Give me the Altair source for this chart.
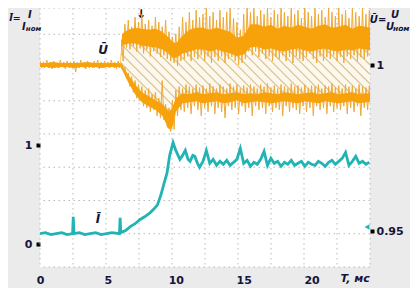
import altair as alt
import numpy as np
import pandas as pd

# ---------------- scales / layout constants ----------------
T_DOMAIN = [0, 24.3]          # time, ms
I_DOMAIN = [-0.2273, 2.3889]  # current, p.u. (left axis)
U_DOMAIN = [0.939157, 1.017169]  # voltage, p.u. (right axis)
W, H = 330, 259

x_label_values = [0, 5, 10, 15, 20]
left_tick_values = [0, 1]
right_tick_values = [0.95, 1]

# oscilloscope graticule (10 x 8 divisions)
grid_t = [0, 2.43, 4.86, 7.29, 9.72, 12.15, 14.58, 17.01, 19.44, 21.87, 24.3]
grid_I = [-0.2273, 0.1086, 0.4444, 0.7803, 1.1162, 1.4520, 1.7879, 2.1237, 2.3889]

# ---------------- voltage U (p.u.) ----------------
# before the event: band of the trace
pre_t = [0, 0.5, 1.0, 1.5, 2.0, 2.5, 3.0, 3.5, 4.0, 4.5, 5.0, 5.5, 5.9]
pre_hi = [1.0006, 1.0006, 1.0009, 1.0006, 1.0006, 1.0006, 1.0006, 1.0009, 1.0006, 1.0006, 1.0006, 1.0006, 1.0006]
pre_lo = [0.9994, 0.9994, 0.9991, 0.9994, 0.9994, 0.9991, 0.9994, 0.9994, 0.9994, 0.9991, 0.9994, 0.9994, 0.9994]

pre_zig_t = [0.25 * k for k in range(24)]
pre_zig_hi = [1.0012, 1.0009, 1.0015, 1.0009, 1.0012, 1.0006, 1.0015, 1.0009, 1.0012, 1.0009, 1.0012, 1.0009,
              1.0015, 1.0009, 1.0012, 1.0006, 1.0012, 1.0015, 1.0009, 1.0012, 1.0009, 1.0015, 1.0009, 1.0012]
pre_zig_lo = [0.9991, 0.9994, 0.9991, 0.9988, 0.9994, 0.9991, 0.9994, 0.9988, 0.9994, 0.9991, 0.9979, 0.9991,
              0.9994, 0.9988, 0.9994, 0.9991, 0.9994, 0.9988, 0.9991, 0.9994, 0.9991, 0.9994, 0.9988, 0.9994]

# after the event: upper and lower envelopes (core of the traces)
core_t = [5.9, 6.05, 6.5, 7.0, 7.5, 8.0, 8.5, 9.0, 9.5, 9.75, 10.0, 10.5, 11.0, 11.5, 12.0, 12.5, 13.0, 13.5,
          14.0, 14.5, 15.0, 15.5, 16.0, 16.5, 17.0, 17.5, 18.0, 18.5, 19.0, 19.5, 20.0, 20.5, 21.0, 21.5,
          22.0, 22.5, 23.0, 23.5, 24.0, 24.3]
up_top = [1.0006, 1.0094, 1.0106, 1.0112, 1.0109, 1.0106, 1.0109, 1.0100, 1.0082, 1.0071,
          1.0065, 1.0088, 1.0106, 1.0112, 1.0112, 1.0106, 1.0112, 1.0106, 1.0100, 1.0082,
          1.0088, 1.0123, 1.0123, 1.0115, 1.0121, 1.0109, 1.0118, 1.0112, 1.0121, 1.0115,
          1.0109, 1.0118, 1.0123, 1.0112, 1.0115, 1.0121, 1.0109, 1.0118, 1.0115, 1.0112]
up_bot = [0.9994, 1.0059, 1.0065, 1.0065, 1.0059, 1.0056, 1.0053, 1.0047, 1.0035, 1.0024,
          1.0021, 1.0035, 1.0041, 1.0047, 1.0047, 1.0041, 1.0047, 1.0041, 1.0035, 1.0026,
          1.0032, 1.0053, 1.0056, 1.0047, 1.0050, 1.0044, 1.0041, 1.0047, 1.0050, 1.0044,
          1.0041, 1.0047, 1.0050, 1.0044, 1.0041, 1.0047, 1.0044, 1.0050, 1.0047, 1.0044]
lo_top = [1.0006, 1.0000, 0.9971, 0.9941, 0.9918, 0.9906, 0.9894, 0.9882, 0.9859, 0.9871,
          0.9900, 0.9915, 0.9912, 0.9918, 0.9912, 0.9915, 0.9918, 0.9912, 0.9915, 0.9918,
          0.9912, 0.9915, 0.9912, 0.9918, 0.9915, 0.9912, 0.9918, 0.9915, 0.9912, 0.9915,
          0.9918, 0.9912, 0.9915, 0.9918, 0.9912, 0.9915, 0.9918, 0.9912, 0.9915, 0.9915]
lo_bot = [0.9994, 0.9985, 0.9947, 0.9912, 0.9888, 0.9876, 0.9865, 0.9847, 0.9806, 0.9812,
          0.9859, 0.9885, 0.9888, 0.9891, 0.9885, 0.9888, 0.9891, 0.9885, 0.9888, 0.9894,
          0.9885, 0.9888, 0.9891, 0.9888, 0.9885, 0.9888, 0.9891, 0.9888, 0.9885, 0.9891,
          0.9888, 0.9885, 0.9891, 0.9888, 0.9885, 0.9888, 0.9891, 0.9885, 0.9888, 0.9888]

# noise spikes (peak up / peak down) every 0.25 ms after the event
zig_t = [6.0 + 0.25 * k for k in range(74)]
up_zig_hi = [1.0076, 1.0123, 1.0135, 1.0115, 1.0144, 1.0129, 1.0153, 1.0123, 1.0135, 1.0118,
             1.0144, 1.0129, 1.0115, 1.0135, 1.0100, 1.0085, 1.0094, 1.0115, 1.0144, 1.0129,
             1.0159, 1.0135, 1.0165, 1.0144, 1.0153, 1.0171, 1.0147, 1.0159, 1.0135, 1.0165,
             1.0144, 1.0159, 1.0171, 1.0141, 1.0129, 1.0106, 1.0153, 1.0173, 1.0159, 1.0171,
             1.0147, 1.0165, 1.0153, 1.0171, 1.0144, 1.0165, 1.0153, 1.0173, 1.0159, 1.0147,
             1.0171, 1.0153, 1.0165, 1.0141, 1.0173, 1.0159, 1.0147, 1.0171, 1.0153, 1.0165,
             1.0144, 1.0173, 1.0159, 1.0147, 1.0171, 1.0153, 1.0165, 1.0141, 1.0171, 1.0159,
             1.0147, 1.0173, 1.0153, 1.0165]
up_zig_lo = [1.0012, 1.0053, 1.0047, 1.0056, 1.0041, 1.0050, 1.0035, 1.0047, 1.0026, 1.0041,
             1.0035, 1.0024, 1.0029, 1.0018, 1.0012, 1.0006, 0.9997, 1.0012, 1.0018, 1.0026,
             1.0012, 1.0024, 1.0018, 1.0029, 1.0012, 1.0026, 1.0006, 1.0024, 1.0012, 1.0026,
             1.0006, 1.0018, 1.0024, 1.0012, 1.0000, 1.0006, 1.0018, 1.0041, 1.0029, 1.0041,
             1.0024, 1.0035, 1.0018, 1.0026, 1.0012, 1.0024, 1.0018, 1.0029, 1.0012, 1.0024,
             1.0006, 1.0026, 1.0018, 1.0012, 1.0024, 1.0035, 1.0018, 1.0006, 1.0026, 1.0012,
             1.0024, 1.0018, 1.0029, 1.0012, 1.0024, 1.0006, 1.0026, 1.0018, 1.0029, 1.0012,
             1.0024, 1.0018, 1.0026, 1.0035]
lo_zig_hi = [1.0006, 0.9994, 0.9976, 0.9965, 0.9953, 0.9941, 0.9935, 0.9924, 0.9929, 0.9912,
             0.9918, 0.9900, 0.9953, 0.9882, 0.9871, 0.9894, 0.9924, 0.9935, 0.9929, 0.9941,
             0.9935, 0.9929, 0.9941, 0.9932, 0.9938, 0.9929, 0.9944, 0.9935, 0.9929, 0.9941,
             0.9935, 0.9929, 0.9944, 0.9935, 0.9941, 0.9929, 0.9938, 0.9932, 0.9941, 0.9935,
             0.9929, 0.9941, 0.9935, 0.9944, 0.9932, 0.9938, 0.9929, 0.9941, 0.9935, 0.9929,
             0.9944, 0.9935, 0.9938, 0.9932, 0.9941, 0.9929, 0.9938, 0.9935, 0.9941, 0.9929,
             0.9938, 0.9935, 0.9944, 0.9932, 0.9938, 0.9929, 0.9941, 0.9935, 0.9938, 0.9929,
             0.9941, 0.9935, 0.9932, 0.9938]
lo_zig_lo = [0.9988, 0.9959, 0.9935, 0.9918, 0.9900, 0.9894, 0.9876, 0.9871, 0.9859, 0.9865,
             0.9847, 0.9841, 0.9835, 0.9812, 0.9800, 0.9806, 0.9847, 0.9865, 0.9859, 0.9871,
             0.9853, 0.9876, 0.9865, 0.9847, 0.9871, 0.9859, 0.9876, 0.9853, 0.9871, 0.9859,
             0.9841, 0.9876, 0.9865, 0.9871, 0.9853, 0.9876, 0.9859, 0.9871, 0.9847, 0.9876,
             0.9865, 0.9871, 0.9853, 0.9876, 0.9859, 0.9871, 0.9865, 0.9847, 0.9876, 0.9859,
             0.9871, 0.9865, 0.9853, 0.9876, 0.9859, 0.9871, 0.9847, 0.9876, 0.9865, 0.9871,
             0.9853, 0.9876, 0.9859, 0.9871, 0.9865, 0.9876, 0.9853, 0.9871, 0.9859, 0.9876,
             0.9847, 0.9871, 0.9865, 0.9876]

# ---------------- current I (p.u.) ----------------
cyan_t = [0.0, 0.4, 0.8, 1.2, 1.6, 2.0, 2.4, 2.45, 2.5, 2.9, 3.3, 3.7, 4.1, 4.5, 4.9, 5.3,
          5.85, 5.9, 5.95, 6.3, 6.65, 7.0, 7.35, 7.7, 8.1, 8.4, 8.65, 8.9, 9.1, 9.35, 9.55, 9.8,
          10.0, 10.1, 10.3, 10.5, 10.7, 10.9, 11.05, 11.25, 11.4, 11.6] + [11.75 + 0.25 * k for k in range(51)]
cyan_I = [0.11, 0.12, 0.10, 0.11, 0.12, 0.10, 0.11, 0.28, 0.11, 0.12, 0.10, 0.11, 0.12, 0.10, 0.11, 0.12,
          0.11, 0.27, 0.12, 0.14, 0.18, 0.21, 0.25, 0.28, 0.32, 0.36, 0.40, 0.50, 0.60, 0.72, 0.90, 1.03,
          0.95, 0.92, 0.86, 0.90, 0.95, 0.86, 0.84, 0.90, 0.89, 0.82,
          0.78, 0.84, 0.95, 0.82, 0.86, 0.80, 0.84, 0.81, 0.85, 0.80,
          0.83, 0.86, 0.97, 0.82, 0.85, 0.79, 0.83, 0.81, 0.86, 0.94,
          0.80, 0.87, 0.82, 0.84, 0.79, 0.83, 0.81, 0.85, 0.80, 0.82,
          0.84, 0.79, 0.83, 0.81, 0.80, 0.84, 0.82, 0.79, 0.83, 0.85,
          0.81, 0.84, 0.87, 0.93, 0.80, 0.84, 0.89, 0.82, 0.84, 0.81, 0.83]

# ---------------- text annotations ----------------
ann_I = pd.DataFrame({
    "t": [-1.84, -0.74, -1.18, -0.48, 4.27, 23.2],
    "I": [2.288, 2.318, 2.197, 2.177, 0.258, -0.352],
    "text": ["Ī=", "I", "I", "ном", "Ī", "T, мс"],
    "fs": [9.5, 10, 10, 7, 12, 11],
})
ann_U = pd.DataFrame({
    "t": [24.89, 26.14, 25.77, 26.6, 4.64],
    "U": [1.01355, 1.01506, 1.01145, 1.01084, 1.0045],
    "text": ["Ū=", "U", "U", "ном", "Ū"],
    "fs": [10, 10, 10, 7.5, 12],
})
arrow_df = pd.DataFrame({"t": [7.44], "I": [2.33], "text": ["↓"]})
marker_df = pd.DataFrame({"t": [24.08], "I": [0.177]})

# ---------------- styles ----------------
ORANGE = "#f7a20a"
ORANGE_SPIKE = "#efa935"
CYAN = "#22b4b5"
HATCH = "#d9c293"
CREAM = "#fdf8ed"
GRID = "#b9b9b9"
INK = "#15153a"
BG = "#ebebeb"
FONT = "DejaVu Sans"

x_scale = alt.Scale(domain=T_DOMAIN, nice=False, zero=False)
i_scale = alt.Scale(domain=I_DOMAIN, nice=False, zero=False)
u_scale = alt.Scale(domain=U_DOMAIN, nice=False, zero=False)

x_axis = alt.Axis(values=x_label_values, title=None, ticks=False, domain=False, grid=False,
                  labelFont=FONT, labelFontWeight="bold", labelFontSize=11, labelColor=INK,
                  labelPadding=7, labelFlush=False, labelOverlap=False)
i_axis = alt.Axis(orient="left", values=left_tick_values, title=None, domain=False, grid=False,
                  tickSize=4, tickWidth=4, tickColor="black", labelFont=FONT, labelFontWeight="bold",
                  labelFontSize=11, labelColor=INK, labelPadding=4, labelOverlap=False)
u_axis = alt.Axis(orient="right", values=right_tick_values, title=None, domain=False, grid=False,
                  tickSize=4, tickWidth=4, tickColor="black", labelFont=FONT, labelFontWeight="bold",
                  labelFontSize=11, labelColor=INK, labelPadding=2, labelOverlap=False,
                  labelExpr="datum.value >= 0.999 ? '1' : '0.95'")


# the same axis spec is given to every layer sharing a scale, so the axes merge
def X(field="t"):
    return alt.X(f"{field}:Q", scale=x_scale, axis=x_axis)


def YI(field="I"):
    return alt.Y(f"{field}:Q", scale=i_scale, axis=i_axis)


def YU(field="U"):
    return alt.Y(f"{field}:Q", scale=u_scale, axis=u_axis)


def zig(t, hi, lo, dt=0.125):
    rows = []
    for tt, h, l in zip(t, hi, lo):
        rows.append({"t": tt, "U": h})
        rows.append({"t": tt + dt, "U": l})
    return pd.DataFrame(rows)


# ---------------- hatch between the two voltage envelopes ----------------
def px_t(t):
    return (np.asarray(t) - T_DOMAIN[0]) / (T_DOMAIN[1] - T_DOMAIN[0]) * W


def t_px(x):
    return T_DOMAIN[0] + np.asarray(x) / W * (T_DOMAIN[1] - T_DOMAIN[0])


def py_u(u):
    return (U_DOMAIN[1] - np.asarray(u)) / (U_DOMAIN[1] - U_DOMAIN[0]) * H


def u_py(y):
    return U_DOMAIN[1] - np.asarray(y) / H * (U_DOMAIN[1] - U_DOMAIN[0])


um = (np.array(up_top) + np.array(up_bot)) / 2
lm = (np.array(lo_top) + np.array(lo_bot)) / 2
xs = np.arange(px_t(core_t[0]), px_t(core_t[-1]), 0.25)
yu = py_u(np.interp(t_px(xs), core_t, um))
yl = py_u(np.interp(t_px(xs), core_t, lm))
hatch_rows = []
for c in np.arange(-H, W, 9.5):
    yy = xs - c
    idx = np.flatnonzero((yy >= yu) & (yy <= yl))
    if idx.size < 2:
        continue
    br = np.flatnonzero(np.diff(idx) > 1)
    starts = np.concatenate([[idx[0]], idx[br + 1]])
    ends = np.concatenate([idx[br], [idx[-1]]])
    for s, e in zip(starts, ends):
        if e > s:
            hatch_rows.append({"t": float(t_px(xs[s])), "U": float(u_py(yy[s])),
                               "t2": float(t_px(xs[e])), "U2": float(u_py(yy[e]))})
hatch_df = pd.DataFrame(hatch_rows)

core_df = pd.DataFrame({"t": core_t, "ut": up_top, "ub": up_bot, "lt": lo_top, "lb": lo_bot,
                        "um": um, "lm": lm})
pre_df = pd.DataFrame({"t": pre_t, "hi": pre_hi, "lo": pre_lo})
cyan_df = pd.DataFrame({"t": cyan_t, "I": cyan_I})

# ---------------- left group: graticule + current ----------------
vgrid = alt.Chart(pd.DataFrame({"t": grid_t})).mark_rule(
    color=GRID, strokeWidth=1, strokeDash=[1.5, 3.5]).encode(x=X())
hgrid = alt.Chart(pd.DataFrame({"I": grid_I})).mark_rule(
    color=GRID, strokeWidth=1, strokeDash=[1.5, 3.5]).encode(y=YI())
cyan_line = alt.Chart(cyan_df).mark_line(color=CYAN, strokeWidth=2.8, clip=True).encode(
    x=X(), y=YI())
cyan_marker = alt.Chart(marker_df).mark_point(shape="triangle-left", filled=True, size=32,
                                              color=CYAN, opacity=1).encode(x=X(), y=YI())
text_I = alt.Chart(ann_I).mark_text(font=FONT, fontStyle="italic", fontWeight="bold", color=INK,
                                    baseline="middle", align="center").encode(
    x=X(), y=YI(), text="text:N", size=alt.Size("fs:Q", scale=None))
arrow = alt.Chart(arrow_df).mark_text(font=FONT, fontWeight="bold", color="black", fontSize=12,
                                      baseline="middle", align="center").encode(
    x=X(), y=YI(), text="text:N")
left = alt.layer(vgrid, hgrid, cyan_line, cyan_marker, text_I, arrow)

# ---------------- right group: voltage ----------------
cream = alt.Chart(core_df).mark_area(color=CREAM, clip=True).encode(
    x=X(), y=YU("um"), y2="lm:Q")
hatch = alt.Chart(hatch_df).mark_rule(color=HATCH, strokeWidth=1.3, clip=True).encode(
    x=X(), x2="t2:Q", y=YU(), y2="U2:Q")
zig_style = dict(color=ORANGE_SPIKE, strokeWidth=1, clip=True)
up_zig = alt.Chart(zig(zig_t, up_zig_hi, up_zig_lo)).mark_line(**zig_style).encode(x=X(), y=YU())
lo_zig = alt.Chart(zig(zig_t, lo_zig_hi, lo_zig_lo)).mark_line(**zig_style).encode(x=X(), y=YU())
pre_zig = alt.Chart(zig(pre_zig_t, pre_zig_hi, pre_zig_lo)).mark_line(**zig_style).encode(x=X(), y=YU())
up_core = alt.Chart(core_df).mark_area(color=ORANGE, clip=True).encode(x=X(), y=YU("ut"), y2="ub:Q")
lo_core = alt.Chart(core_df).mark_area(color=ORANGE, clip=True).encode(x=X(), y=YU("lt"), y2="lb:Q")
pre_core = alt.Chart(pre_df).mark_area(color=ORANGE, clip=True).encode(x=X(), y=YU("hi"), y2="lo:Q")
text_U = alt.Chart(ann_U).mark_text(font=FONT, fontStyle="italic", fontWeight="bold", color=INK,
                                    baseline="middle", align="center").encode(
    x=X(), y=YU(), text="text:N", size=alt.Size("fs:Q", scale=None))
right = alt.layer(cream, hatch, up_zig, lo_zig, pre_zig, up_core, lo_core, pre_core, text_U)

chart = alt.layer(left, right).resolve_scale(y="independent").properties(
    width=W, height=H, background=BG,
    padding={"left": 32, "right": 40, "top": 0, "bottom": 22},
    autosize=alt.AutoSizeParams(type="none"),
).configure_view(stroke=None, fill="white")

chart.save("out.html", embed_options={"renderer": "svg", "actions": False})
